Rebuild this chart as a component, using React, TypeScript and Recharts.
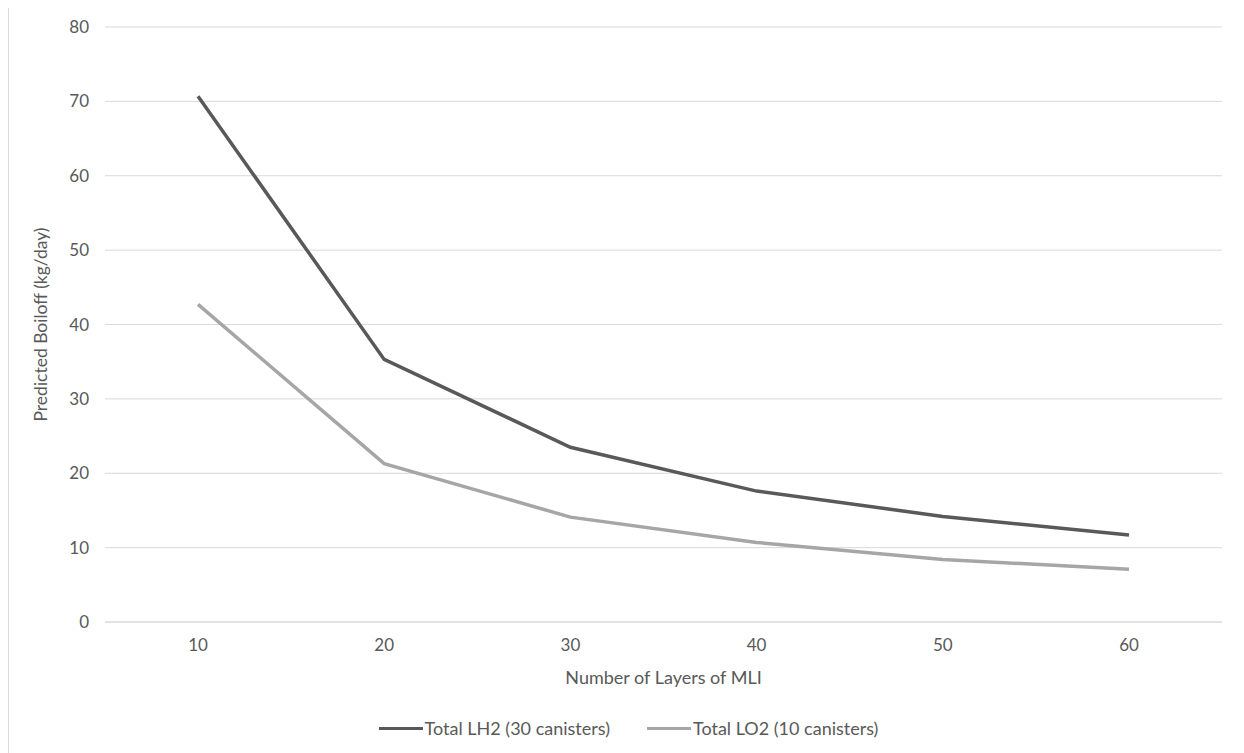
import { LineChart, Line, XAxis, YAxis, CartesianGrid, Legend } from "recharts";

const layers = [10, 20, 30, 40, 50, 60];
const lh2 = [70.7, 35.3, 23.5, 17.6, 14.2, 11.7];
const lo2 = [42.7, 21.3, 14.1, 10.7, 8.4, 7.1];
const yTicks = [0, 10, 20, 30, 40, 50, 60, 70, 80];

const data = layers.map((l, i) => ({ layers: l, lh2: lh2[i], lo2: lo2[i] }));

const FONT = "Lato, 'Liberation Sans', sans-serif";
const TEXT = "#595959";

function LegendRow({ payload }: any) {
  return (
    <div style={{ display: "flex", justifyContent: "center", gap: 37, fontFamily: FONT, fontSize: 18, color: TEXT }}>
      {(payload || []).map((p: any) => (
        <div key={p.value} style={{ display: "flex", alignItems: "center" }}>
          <span style={{ display: "inline-block", width: 44, height: 3, background: p.color, marginRight: 2 }} />
          <span>{p.value}</span>
        </div>
      ))}
    </div>
  );
}

export default function App() {
  return (
    <div
      style={{
        marginTop: -3,
        marginLeft: -1,
        width: 1240,
        height: 748,
        borderTop: "2px solid #D9D9D9",
        borderLeft: "2px solid #D9D9D9",
        boxSizing: "border-box",
        background: "#fff",
      }}
    >
      <LineChart width={1236} height={744} data={data} margin={{ top: 20, right: 23, left: 26, bottom: 0 }}>
        <CartesianGrid vertical={false} stroke="#D9D9D9" strokeWidth={1} />
        <XAxis
          dataKey="layers"
          axisLine={{ stroke: "#D9D9D9" }}
          tickLine={false}
          tickMargin={11}
          height={95}
          padding={{ left: 93, right: 93 }}
          tick={{ fill: TEXT, fontSize: 17, fontFamily: FONT }}
          label={{ value: "Number of Layers of MLI", position: "insideBottom", offset: 33, fill: TEXT, fontSize: 18, fontFamily: FONT }}
        />
        <YAxis
          domain={[0, 80]}
          ticks={yTicks}
          axisLine={false}
          tickLine={false}
          tickMargin={10}
          width={70}
          tick={{ fill: TEXT, fontSize: 17, fontFamily: FONT }}
          label={{ value: "Predicted Boiloff (kg/day)", angle: -90, position: "insideLeft", offset: 6, style: { textAnchor: "middle" }, fill: TEXT, fontSize: 17.5, fontFamily: FONT }}
        />
        <Legend verticalAlign="bottom" height={34} content={<LegendRow />} />
        <Line
          type="linear"
          dataKey="lh2"
          name="Total LH2 (30 canisters)"
          stroke="#595959"
          strokeWidth={3.5}
          dot={false}
          isAnimationActive={false}
        />
        <Line
          type="linear"
          dataKey="lo2"
          name="Total LO2 (10 canisters)"
          stroke="#A6A6A6"
          strokeWidth={3.5}
          dot={false}
          isAnimationActive={false}
        />
      </LineChart>
    </div>
  );
}
